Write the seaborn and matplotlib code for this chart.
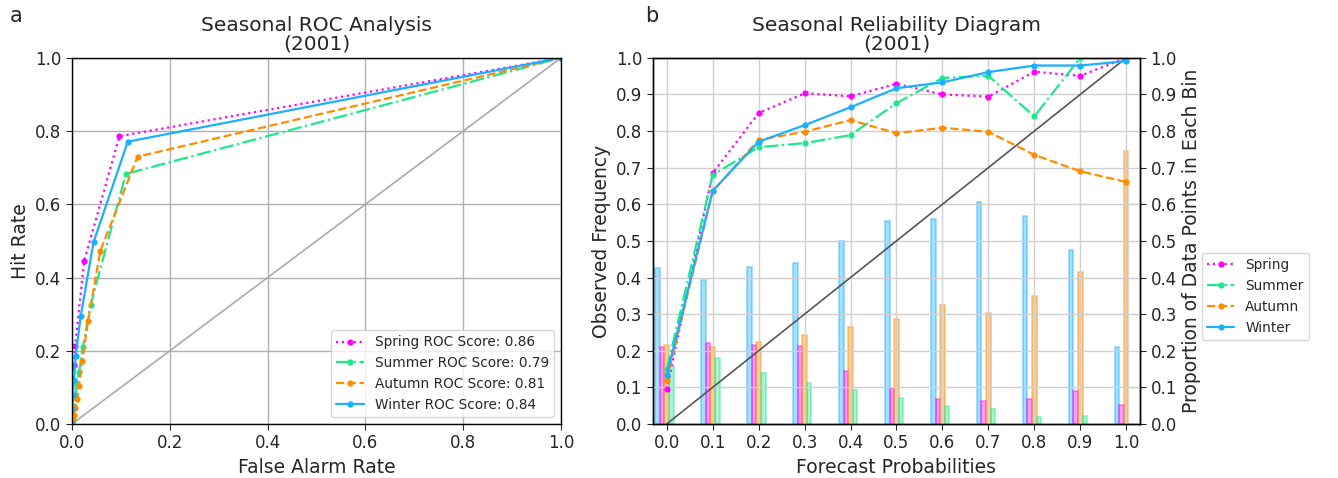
import numpy as np
import pandas as pd
import seaborn as sns
import matplotlib
matplotlib.use("Agg")
import matplotlib.pyplot as plt

# ROC curves (false alarm rate, hit rate) per season
spring_far = [0.0, 0.001, 0.002, 0.003, 0.004, 0.0065, 0.025, 0.097, 1.0]
spring_hit = [0.0, 0.04, 0.08, 0.12, 0.16, 0.214, 0.445, 0.786, 1.0]
summer_far = [0.0, 0.002, 0.004, 0.007, 0.010, 0.0145, 0.022, 0.038, 0.110, 1.0]
summer_hit = [0.0, 0.02, 0.05, 0.075, 0.11, 0.142, 0.21, 0.324, 0.683, 1.0]
autumn_far = [0.0, 0.002, 0.004, 0.006, 0.011, 0.014, 0.021, 0.033, 0.058, 0.134, 1.0]
autumn_hit = [0.0, 0.01, 0.025, 0.043, 0.067, 0.105, 0.172, 0.282, 0.473, 0.730, 1.0]
winter_far = [0.0, 0.001, 0.002, 0.004, 0.0075, 0.018, 0.044, 0.114, 1.0]
winter_hit = [0.0, 0.04, 0.08, 0.12, 0.186, 0.296, 0.496, 0.771, 1.0]
roc_scores = [0.86, 0.79, 0.81, 0.84]

# reliability diagram
prob_bins = [0.0, 0.1, 0.2, 0.3, 0.4, 0.5, 0.6, 0.7, 0.8, 0.9, 1.0]
spring_obs = [0.095, 0.685, 0.849, 0.903, 0.895, 0.929, 0.900, 0.894, 0.962, 0.951, 1.0]
summer_obs = [0.149, 0.680, 0.756, 0.767, 0.789, 0.876, 0.945, 0.951, 0.840, 1.0, 1.0]
autumn_obs = [0.120, 0.635, 0.776, 0.798, 0.830, 0.794, 0.809, 0.798, 0.735, 0.690, 0.661]
winter_obs = [0.134, 0.637, 0.771, 0.816, 0.865, 0.917, 0.933, 0.961, 0.979, 0.979, 0.991]

# proportion of data points in each bin
spring_prop = [0.209, 0.220, 0.215, 0.212, 0.145, 0.099, 0.069, 0.062, 0.069, 0.091, 0.053]
summer_prop = [0.158, 0.180, 0.138, 0.113, 0.093, 0.072, 0.050, 0.042, 0.020, 0.022, 0.0]
autumn_prop = [0.215, 0.211, 0.224, 0.244, 0.266, 0.286, 0.326, 0.304, 0.350, 0.414, 0.745]
winter_prop = [0.425, 0.393, 0.428, 0.439, 0.501, 0.554, 0.560, 0.605, 0.569, 0.475, 0.209]

seasons = ["Spring", "Summer", "Autumn", "Winter"]
colors = ["#ff00ff", "#1de98b", "#ff8c00", "#1ab0ff"]
styles = [":", "-.", "--", "-"]

sns.set_style("white")
plt.rcParams["font.family"] = ["DejaVu Sans"]

fig = plt.figure(figsize=(13.38, 4.78), dpi=100)
ax1 = fig.add_axes([0.0538, 0.113, 0.3655, 0.766])
ax2 = fig.add_axes([0.488, 0.113, 0.364, 0.766])

# ---- panel a: ROC
roc = [(spring_far, spring_hit), (summer_far, summer_hit),
       (autumn_far, autumn_hit), (winter_far, winter_hit)]
ax1.plot([0, 1], [0, 1], color="#aaaaaa", lw=1.2, zorder=1)
for (far, hit), name, c, ls, sc in zip(roc, seasons, colors, styles, roc_scores):
    sns.lineplot(x=far, y=hit, ax=ax1, color=c, linestyle=ls, lw=1.6,
                 marker="o", markersize=4.5, markeredgewidth=0, estimator=None,
                 sort=False, label=f"{name} ROC Score: {sc:.2f}")
ax1.set_xlim(0, 1)
ax1.set_ylim(0, 1)
ax1.set_xticks(np.arange(0, 1.01, 0.2))
ax1.set_yticks(np.arange(0, 1.01, 0.2))
ax1.grid(True, color="#b0b0b0", lw=1)
ax1.set_xlabel("False Alarm Rate", fontsize=13.5)
ax1.set_ylabel("Hit Rate", fontsize=13.5)
ax1.set_title("Seasonal ROC Analysis\n(2001)", fontsize=14.5, linespacing=1.0)
ax1.tick_params(labelsize=12, direction="out", length=4, left=True, bottom=True)
ax1.legend(loc="lower right", fontsize=9.8, handlelength=2.0, framealpha=0.8)

# ---- panel b: reliability
ax2.plot([0, 1], [0, 1], color="#555555", lw=1.2, zorder=1)
obs = [spring_obs, summer_obs, autumn_obs, winter_obs]
for o, name, c, ls in zip(obs, seasons, colors, styles):
    sns.lineplot(x=prob_bins, y=o, ax=ax2, color=c, linestyle=ls, lw=1.6,
                 marker="o", markersize=4.5, markeredgewidth=0, estimator=None,
                 label=name)
ax2.set_xlim(-0.03, 1.03)
ax2.set_ylim(0, 1)
ax2.set_xticks(prob_bins)
ax2.set_yticks(np.arange(0, 1.01, 0.1))
ax2.set_yticklabels([f"{v:.1f}" for v in np.arange(0, 1.01, 0.1)])
ax2.grid(True, color="#d0d0d0", lw=1)
ax2.set_xlabel("Forecast Probabilities", fontsize=13.5)
ax2.set_ylabel("Observed Frequency", fontsize=13.5)
ax2.set_title("Seasonal Reliability Diagram\n(2001)", fontsize=14.5, linespacing=1.0)
ax2.tick_params(labelsize=12, direction="out", length=4, left=True, bottom=True)

axr = ax2.twinx()
props = [(winter_prop, colors[3], -0.02), (spring_prop, colors[0], -0.01),
         (autumn_prop, colors[2], 0.0), (summer_prop, colors[1], 0.01)]
for p, c, off in props:
    axr.bar(np.array(prob_bins) + off, p, width=0.01, color=c, alpha=0.4,
            edgecolor=c, linewidth=1.4)
axr.set_ylim(0, 1)
axr.set_yticks(np.arange(0, 1.01, 0.1))
axr.set_yticklabels([f"{v:.1f}" for v in np.arange(0, 1.01, 0.1)])
axr.set_ylabel("Proportion of Data Points in Each Bin", fontsize=13.5)
axr.tick_params(labelsize=12, direction="out", length=4, right=True)
ax2.set_zorder(axr.get_zorder() + 1)
ax2.patch.set_visible(False)

h, l = ax2.get_legend_handles_labels()
ax2.legend_.remove()
fig.legend(h, l, loc="center left", bbox_to_anchor=(0.893, 0.38),
           fontsize=9.8, handlelength=2.0, framealpha=0.8)

for ax in (ax1, ax2, axr):
    for s in ax.spines.values():
        s.set_color("black")
        s.set_linewidth(1)

fig.text(0.007, 0.955, "a", fontsize=15)
fig.text(0.482, 0.955, "b", fontsize=15)

fig.savefig("out.png", dpi=100)
